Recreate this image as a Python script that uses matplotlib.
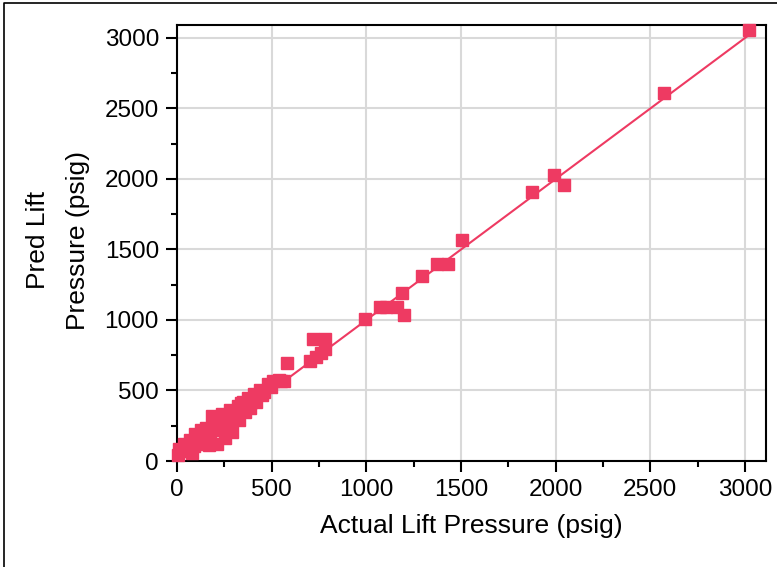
import matplotlib.pyplot as plt
from matplotlib.lines import Line2D
from matplotlib.ticker import MultipleLocator

plt.rcParams["font.family"] = ["Liberation Sans", "DejaVu Sans"]

# actual vs predicted lift pressure (psig)
actual = [
    5, 11, 32, 37, 58, 69, 90, 95, 122, 127, 154, 154, 175, 186, 207, 212,
    228, 238, 254, 265, 281, 292, 307, 323, 329, 339, 350, 360, 376, 387,
    392, 408, 419, 440, 450, 461, 482, 498, 509, 541, 551, 567, 583,
    45, 80, 100, 140, 170, 200, 230, 250, 300, 340,
    700, 716, 735, 758, 784, 784,
    991, 1071, 1102, 1161, 1187, 1198, 1293, 1373, 1431, 1505,
    1876, 1993, 2046, 2571, 3020,
]
predicted = [
    43, 85, 71, 121, 92, 149, 106, 191, 135, 220, 121, 234, 170, 319, 277, 121,
    220, 333, 163, 277, 362, 206, 305, 390, 291, 411, 418, 348, 447, 376,
    418, 475, 418, 504, 468, 489, 546, 525, 567, 574, 567, 567, 695,
    110, 60, 160, 180, 110, 250, 270, 230, 330, 380,
    709, 865, 737, 766, 794, 865,
    1007, 1092, 1092, 1092, 1191, 1035, 1312, 1397, 1397, 1567,
    1908, 2028, 1957, 2610, 3055,
]
fit_x = [0, 3020]
fit_y = [0, 3020]

red = "#ee3a62"

fig = plt.figure(figsize=(7.77, 5.67), dpi=100)
ax = fig.add_axes([177 / 777, 106 / 567, 589 / 777, 436 / 567])

ax.plot(fit_x, fit_y, color=red, lw=1.5, zorder=3)
ax.plot(actual, predicted, ls="none", marker="s", ms=9, color=red,
        mec=red, clip_on=False, zorder=4)

ax.set_xlim(0, 3111)
ax.set_ylim(0, 3092)
ax.xaxis.set_major_locator(MultipleLocator(500))
ax.xaxis.set_minor_locator(MultipleLocator(250))
ax.yaxis.set_major_locator(MultipleLocator(500))
ax.yaxis.set_minor_locator(MultipleLocator(250))
ax.grid(True, which="major", color="#d9d9d9", lw=1.5, zorder=0)
ax.set_axisbelow(True)

for s in ax.spines.values():
    s.set_linewidth(1.5)
    s.set_color("black")

ax.tick_params(which="major", direction="out", length=8, width=1.5,
               labelsize=17.5, pad=5, colors="black")
ax.tick_params(which="minor", direction="out", length=4.5, width=1.5)

ax.set_xlabel("Actual Lift Pressure (psig)", fontsize=19, labelpad=9)
fig.text(38 / 777, 1 - 240 / 567, "Pred Lift", rotation=90, fontsize=19,
         ha="center", va="center")
fig.text(78 / 777, 1 - 240 / 567, "Pressure (psig)", rotation=90,
         fontsize=19, ha="center", va="center")

# outer frame, only top and left edges visible
fig.add_artist(Line2D([4 / 777, 4 / 777, 1], [0, 1 - 3 / 567, 1 - 3 / 567],
                      transform=fig.transFigure, color="black", lw=1.2))

fig.savefig("out.png", dpi=100)
